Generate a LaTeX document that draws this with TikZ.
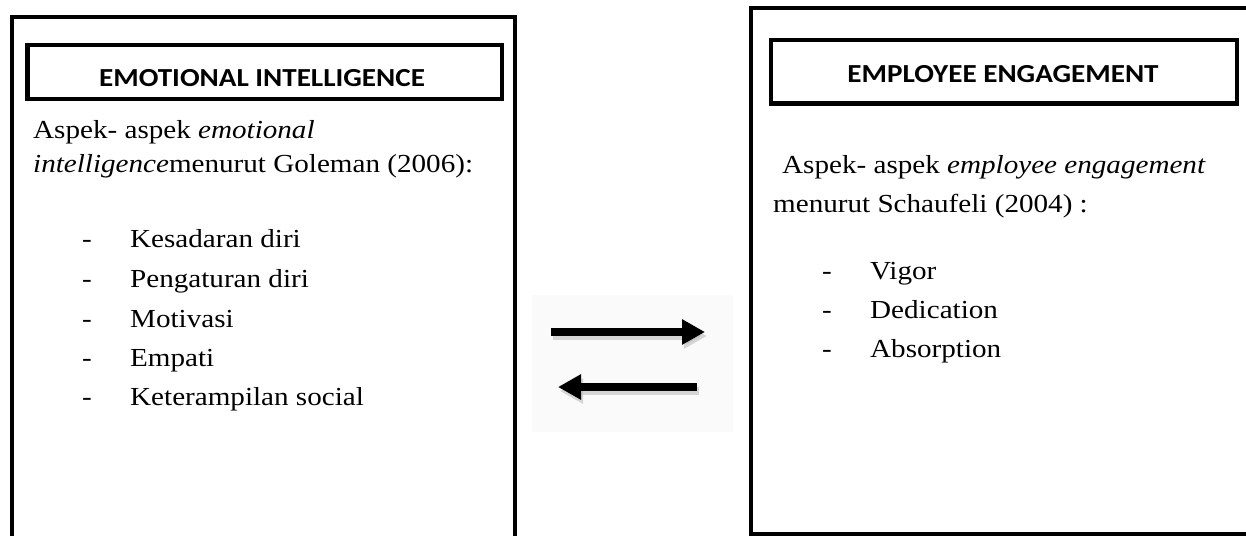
\documentclass[tikz,border=0pt]{standalone}
\usepackage{fontspec}
\setmainfont{Liberation Serif}[FakeStretch=1.12]
\newfontfamily\titlefont{Carlito}[FakeStretch=1.12]
\usetikzlibrary{arrows.meta}
\definecolor{arrowbg}{RGB}{250,250,250}
\tikzset{
  frame/.style={draw=black, line width=4pt},
  titlebox/.style={draw=black, line width=4.5pt, inner sep=0pt},
  titletext/.style={anchor=base, inner sep=0pt, font=\titlefont\bfseries\fontsize{26}{26}\selectfont},
  body/.style={anchor=base west, inner sep=0pt, font=\fontsize{26}{26}\selectfont},
  bigarrow/.style={line width=8pt, -{Triangle[length=23pt,width=24pt]}},
  shadowarrow/.style={line width=8pt, draw=black!30, opacity=0.5, -{Triangle[length=23pt,width=24pt]}}
}
\begin{document}
\begin{tikzpicture}[x=1pt,y=-1pt]
\clip (0,0) rectangle (1246,535);
\fill[white] (0,0) rectangle (1246,535);

% left outer frame (open at bottom, runs off the page)
\draw[frame] (12,545) -- (12,17) -- (514.5,17) -- (514.5,545);
% right outer frame (runs off the right side)
\draw[frame] (1256,8.5) -- (751,8.5) -- (751,533.5) -- (1256,533.5);

% title boxes
\node[titlebox, minimum width=474.5pt, minimum height=54pt] (eibox) at (264.75,72) {};
\node[titletext] (eititle) at (262,86) {EMOTIONAL INTELLIGENCE};
\node[titlebox, minimum width=466pt, minimum height=63.5pt] (eebox) at (1004,71.75) {};
\node[titletext] (eetitle) at (1003,82) {EMPLOYEE ENGAGEMENT};

% left text
\node[body] (l1) at (33,138) {Aspek- aspek \textit{emotional}};
\node[body] (l2) at (33,172) {\textit{intelligence}menurut Goleman (2006):};
\foreach \y/\t [count=\i] in {247/Kesadaran diri, 287/Pengaturan diri, 327/Motivasi, 366/Empati, 405/Keterampilan social}{
  \node[body] (ld\i) at (82,\y) {-};
  \node[body] (li\i) at (130,\y) {\t};
}

% right text
\node[body] (r1) at (782,173) {Aspek- aspek \textit{employee engagement}};
\node[body] (r2) at (773,212) {menurut Schaufeli (2004) :};
\foreach \y/\t [count=\i] in {279/Vigor, 318/Dedication, 357/Absorption}{
  \node[body] (rd\i) at (822,\y) {-};
  \node[body] (ri\i) at (870,\y) {\t};
}

% arrows
\fill[arrowbg] (532,295) rectangle (733,432);
\coordinate (a1s) at (551,332);
\coordinate (a1e) at (705,332);
\coordinate (a2s) at (697,387);
\coordinate (a2e) at (558,387);
\coordinate (s1s) at (553,336);
\coordinate (s1e) at (707,336);
\coordinate (s2s) at (699,391);
\coordinate (s2e) at (560,391);
\draw[shadowarrow] (s1s) -- (s1e);
\draw[shadowarrow] (s2s) -- (s2e);
\draw[bigarrow] (a1s) -- (a1e);
\draw[bigarrow] (a2s) -- (a2e);
\end{tikzpicture}
\end{document}
